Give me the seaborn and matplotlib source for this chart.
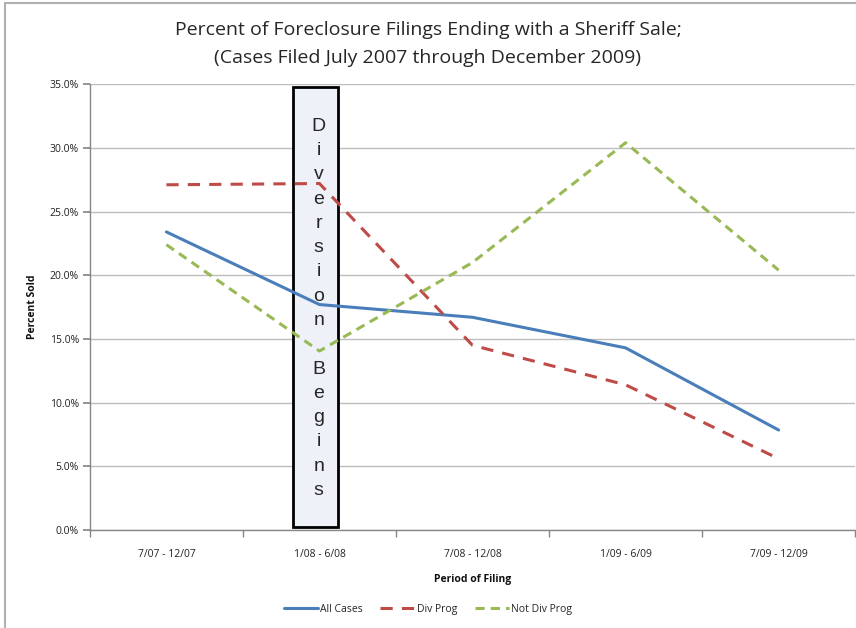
import matplotlib
matplotlib.use("Agg")
import matplotlib.pyplot as plt
import seaborn as sns
import pandas as pd
import numpy as np
from matplotlib.patches import Rectangle
from matplotlib.lines import Line2D
from matplotlib.ticker import FuncFormatter, FixedLocator

periods = ["7/07 - 12/07", "1/08 - 6/08", "7/08 - 12/08", "1/09 - 6/09", "7/09 - 12/09"]
all_cases = [23.4, 17.7, 16.7, 14.3, 7.85]
div_prog = [27.1, 27.2, 14.5, 11.4, 5.6]
not_div_prog = [22.4, 14.05, 21.0, 30.4, 20.4]
series_names = ["All Cases", "Div Prog", "Not Div Prog"]
colors = ["#4a7ebb", "#be4b48", "#98b954"]

sns.set_theme(style="white")
plt.rcParams['font.family'] = ['Open Sans', 'DejaVu Sans']

fig = plt.figure(figsize=(8.56, 6.28), dpi=100)
ax = fig.add_axes([0.105, 0.156, 0.894, 0.710])

idx = np.arange(len(periods))
df = pd.DataFrame({
    "x": np.tile(idx, 3),
    "y": all_cases + div_prog + not_div_prog,
    "series": np.repeat(series_names, len(periods)),
})

dashes = {"All Cases": "", "Div Prog": (4, 3), "Not Div Prog": (3, 2)}
sns.lineplot(data=df, x="x", y="y", hue="series", style="series",
             palette=dict(zip(series_names, colors)), dashes=dashes,
             linewidth=2.2, ax=ax, legend=False, zorder=3)

ax.set_xlim(-0.5, len(periods) - 0.5)
ax.set_ylim(0, 35)
ax.yaxis.set_major_locator(FixedLocator(np.arange(0, 35.1, 5)))
ax.yaxis.set_major_formatter(FuncFormatter(lambda v, p: f"{v:.1f}%"))
ax.set_xticks(idx)
ax.set_xticklabels(periods)
ax.set_xticks(np.arange(-0.5, len(periods), 1), minor=True)
ax.tick_params(axis='x', which='major', length=0, pad=14, labelsize=7.5, colors='#222222')
ax.tick_params(axis='x', which='minor', length=5, color='#868686', direction='out', bottom=True)
ax.tick_params(axis='y', length=5, color='#868686', direction='out', left=True, labelsize=7.5, colors='#222222', pad=3)
ax.grid(axis='y', color='#bdbdbd', linewidth=1)
ax.set_axisbelow(True)
for s in ['top', 'right']:
    ax.spines[s].set_visible(False)
for s in ['left', 'bottom']:
    ax.spines[s].set_color('#868686')
    ax.spines[s].set_linewidth(1)

ax.set_xlabel("Period of Filing", fontsize=7.5, fontweight='bold', labelpad=10, color='#111111')
ax.set_ylabel("Percent Sold", fontsize=7.5, fontweight='bold', labelpad=8, color='#111111')

# Diversion box
ax.add_patch(Rectangle((0.83, 0.2), 0.294, 34.6, facecolor='#eef2f8', edgecolor='black',
                       linewidth=2, zorder=2))
ax.text(0.995, 17.4, "\n".join(list("Diversion Begins")), ha='center', va='center',
        fontsize=14, linespacing=1.56, family=['Liberation Sans', 'DejaVu Sans'], zorder=4)

fig.text(0.5, 0.952, "Percent of Foreclosure Filings Ending with a Sheriff Sale;",
         ha='center', va='center', fontsize=14)
fig.text(0.5, 0.908, "(Cases Filed July 2007 through December 2009)",
         ha='center', va='center', fontsize=14)

handles = [Line2D([0], [0], color=colors[0], lw=2.2),
           Line2D([0], [0], color=colors[1], lw=2.2, dashes=(4, 3)),
           Line2D([0], [0], color=colors[2], lw=2.2, dashes=(3, 2))]
fig.legend(handles, series_names, loc='center', bbox_to_anchor=(0.5, 0.03), ncol=3,
           frameon=False, fontsize=7.5, handlelength=3.3, columnspacing=1.7, handletextpad=0.2)

# outer chart border
fig.add_artist(Line2D([0.006, 0.006], [0, 0.995], transform=fig.transFigure, color='#b0b0b0', lw=1.5))
fig.add_artist(Line2D([0.006, 1], [0.995, 0.995], transform=fig.transFigure, color='#b0b0b0', lw=1.5))

fig.savefig("out.png", dpi=100)
